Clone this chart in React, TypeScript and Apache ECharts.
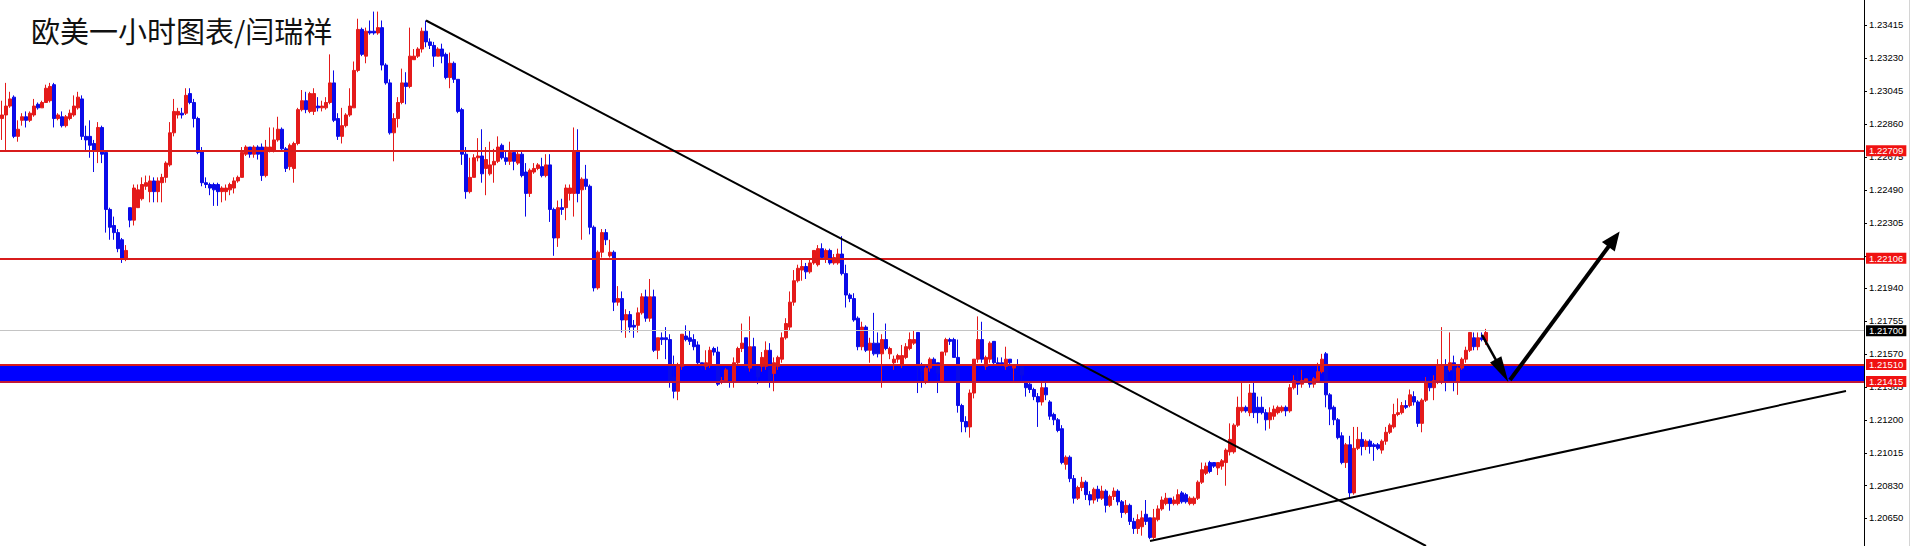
import React, { useEffect, useRef } from "react";
import * as echarts from "echarts";

// Hourly EUR/USD candles, each row = [open, close, low, high]
const CANDLES: number[][] = [
  [1.2289,1.2291,1.2277,1.2299],[1.2291,1.2296,1.2271,1.2309],[1.2296,1.2300,1.2295,1.2304],[1.2301,1.2279,1.2278,1.2302],
  [1.2279,1.2283,1.2276,1.2288],[1.2288,1.2290,1.2285,1.2292],[1.2290,1.2288,1.2284,1.2293],[1.2288,1.2292,1.2287,1.2293],
  [1.2291,1.2296,1.2290,1.2300],[1.2297,1.2295,1.2294,1.2298],[1.2295,1.2298,1.2295,1.2299],[1.2298,1.2306,1.2298,1.2308],
  [1.2299,1.2307,1.2298,1.2309],[1.2308,1.2289,1.2284,1.2309],[1.2289,1.2291,1.2288,1.2292],[1.2290,1.2285,1.2284,1.2293],
  [1.2285,1.2290,1.2284,1.2291],[1.2289,1.2292,1.2288,1.2294],[1.2291,1.2296,1.2290,1.2302],[1.2295,1.2301,1.2294,1.2304],
  [1.2300,1.2279,1.2277,1.2302],[1.2279,1.2277,1.2271,1.2285],[1.2279,1.2274,1.2267,1.2288],[1.2275,1.2271,1.2259,1.2277],
  [1.2271,1.2284,1.2264,1.2287],[1.2284,1.2269,1.2264,1.2285],[1.2270,1.2238,1.2225,1.2271],[1.2238,1.2228,1.2221,1.2239],
  [1.2229,1.2225,1.2221,1.2234],[1.2225,1.2216,1.2214,1.2227],[1.2221,1.2210,1.2208,1.2222],[1.2210,1.2215,1.2209,1.2218],
  [1.2239,1.2232,1.2228,1.2239],[1.2232,1.2250,1.2229,1.2252],[1.2239,1.2249,1.2239,1.2252],[1.2244,1.2252,1.2243,1.2256],
  [1.2251,1.2253,1.2249,1.2257],[1.2248,1.2254,1.2242,1.2257],[1.2254,1.2248,1.2242,1.2256],[1.2248,1.2254,1.2242,1.2256],
  [1.2253,1.2256,1.2242,1.2258],[1.2256,1.2264,1.2253,1.2265],[1.2263,1.2281,1.2262,1.2287],[1.2281,1.2293,1.2279,1.2300],
  [1.2291,1.2293,1.2289,1.2295],[1.2292,1.2291,1.2289,1.2295],[1.2292,1.2302,1.2291,1.2306],[1.2303,1.2298,1.2297,1.2306],
  [1.2298,1.2289,1.2284,1.2300],[1.2289,1.2270,1.2269,1.2290],[1.2271,1.2253,1.2251,1.2273],[1.2253,1.2252,1.2250,1.2256],
  [1.2252,1.2250,1.2246,1.2253],[1.2252,1.2249,1.2240,1.2253],[1.2252,1.2248,1.2240,1.2253],[1.2248,1.2250,1.2242,1.2251],
  [1.2248,1.2250,1.2243,1.2252],[1.2249,1.2252,1.2246,1.2253],[1.2250,1.2254,1.2247,1.2256],[1.2254,1.2256,1.2253,1.2257],
  [1.2256,1.2270,1.2256,1.2273],[1.2269,1.2273,1.2268,1.2274],[1.2273,1.2269,1.2267,1.2273],[1.2269,1.2273,1.2267,1.2274],
  [1.2273,1.2269,1.2266,1.2274],[1.2273,1.2257,1.2254,1.2275],[1.2257,1.2273,1.2256,1.2277],[1.2271,1.2273,1.2270,1.2284],
  [1.2271,1.2277,1.2270,1.2284],[1.2277,1.2283,1.2276,1.2290],[1.2283,1.2272,1.2271,1.2284],[1.2272,1.2261,1.2259,1.2273],
  [1.2262,1.2274,1.2260,1.2275],[1.2261,1.2275,1.2253,1.2276],[1.2275,1.2294,1.2274,1.2295],[1.2294,1.2299,1.2293,1.2305],
  [1.2299,1.2294,1.2292,1.2304],[1.2293,1.2303,1.2292,1.2304],[1.2293,1.2303,1.2291,1.2306],[1.2296,1.2295,1.2293,1.2301],
  [1.2295,1.2296,1.2293,1.2299],[1.2295,1.2298,1.2294,1.2301],[1.2298,1.2309,1.2297,1.2325],[1.2309,1.2288,1.2287,1.2316],
  [1.2289,1.2279,1.2277,1.2292],[1.2279,1.2285,1.2275,1.2295],[1.2285,1.2291,1.2284,1.2292],[1.2291,1.2296,1.2290,1.2306],
  [1.2295,1.2316,1.2295,1.2321],[1.2316,1.2339,1.2315,1.2345],[1.2339,1.2325,1.2324,1.2340],[1.2324,1.2338,1.2320,1.2340],
  [1.2338,1.2337,1.2336,1.2344],[1.2338,1.2337,1.2336,1.2349],[1.2337,1.2340,1.2336,1.2349],[1.2340,1.2319,1.2316,1.2344],
  [1.2319,1.2309,1.2308,1.2320],[1.2309,1.2281,1.2280,1.2311],[1.2281,1.2289,1.2265,1.2292],[1.2289,1.2298,1.2284,1.2301],
  [1.2298,1.2309,1.2297,1.2317],[1.2309,1.2307,1.2297,1.2315],[1.2307,1.2324,1.2306,1.2340],[1.2322,1.2324,1.2322,1.2328],
  [1.2324,1.2328,1.2323,1.2329],[1.2328,1.2338,1.2326,1.2340],[1.2338,1.2332,1.2329,1.2344],[1.2332,1.2330,1.2328,1.2334],
  [1.2330,1.2324,1.2318,1.2332],[1.2324,1.2328,1.2324,1.2329],[1.2328,1.2324,1.2320,1.2331],[1.2325,1.2312,1.2311,1.2326],
  [1.2312,1.2320,1.2306,1.2326],[1.2320,1.2311,1.2309,1.2321],[1.2311,1.2293,1.2292,1.2311],[1.2294,1.2269,1.2263,1.2295],
  [1.2269,1.2248,1.2244,1.2273],[1.2248,1.2256,1.2247,1.2267],[1.2256,1.2267,1.2256,1.2269],[1.2267,1.2268,1.2265,1.2278],
  [1.2268,1.2258,1.2253,1.2283],[1.2261,1.2266,1.2246,1.2273],[1.2258,1.2263,1.2257,1.2276],[1.2263,1.2265,1.2253,1.2272],
  [1.2265,1.2273,1.2264,1.2279],[1.2274,1.2267,1.2266,1.2275],[1.2267,1.2265,1.2263,1.2271],[1.2265,1.2270,1.2263,1.2276],
  [1.2270,1.2265,1.2260,1.2271],[1.2264,1.2269,1.2263,1.2271],[1.2269,1.2257,1.2256,1.2271],[1.2259,1.2247,1.2234,1.2264],
  [1.2247,1.2260,1.2245,1.2261],[1.2259,1.2261,1.2258,1.2264],[1.2261,1.2263,1.2260,1.2264],[1.2262,1.2257,1.2256,1.2267],
  [1.2257,1.2263,1.2256,1.2269],[1.2263,1.2238,1.2231,1.2269],[1.2238,1.2222,1.2212,1.2239],[1.2222,1.2239,1.2217,1.2243],
  [1.2239,1.2238,1.2235,1.2244],[1.2239,1.2250,1.2232,1.2252],[1.2247,1.2250,1.2243,1.2252],[1.2247,1.2271,1.2234,1.2284],
  [1.2271,1.2247,1.2242,1.2283],[1.2249,1.2255,1.2221,1.2256],[1.2255,1.2251,1.2249,1.2263],[1.2251,1.2228,1.2224,1.2252],
  [1.2228,1.2194,1.2192,1.2229],[1.2194,1.2214,1.2193,1.2215],[1.2214,1.2225,1.2211,1.2227],[1.2225,1.2221,1.2218,1.2227],
  [1.2212,1.2214,1.2211,1.2221],[1.2214,1.2186,1.2181,1.2215],[1.2186,1.2188,1.2184,1.2195],[1.2188,1.2176,1.2169,1.2192],
  [1.2176,1.2179,1.2166,1.2182],[1.2179,1.2172,1.2169,1.2181],[1.2173,1.2172,1.2166,1.2176],[1.2173,1.2180,1.2169,1.2183],
  [1.2180,1.2189,1.2179,1.2191],[1.2189,1.2177,1.2175,1.2193],[1.2177,1.2189,1.2175,1.2199],[1.2189,1.2159,1.2158,1.2193],
  [1.2159,1.2166,1.2154,1.2166],[1.2166,1.2165,1.2162,1.2169],[1.2166,1.2165,1.2154,1.2172],[1.2165,1.2141,1.2138,1.2168],
  [1.2144,1.2136,1.2132,1.2156],[1.2136,1.2150,1.2131,1.2152],[1.2150,1.2168,1.2148,1.2168],[1.2167,1.2165,1.2164,1.2173],
  [1.2166,1.2164,1.2162,1.2170],[1.2165,1.2161,1.2159,1.2168],[1.2162,1.2152,1.2151,1.2164],[1.2152,1.2150,1.2148,1.2152],
  [1.2150,1.2152,1.2148,1.2159],[1.2151,1.2159,1.2149,1.2161],[1.2160,1.2158,1.2156,1.2161],[1.2158,1.2140,1.2139,1.2161],
  [1.2141,1.2142,1.2140,1.2144],[1.2142,1.2148,1.2141,1.2149],[1.2148,1.2142,1.2138,1.2150],[1.2141,1.2152,1.2138,1.2155],
  [1.2152,1.2160,1.2151,1.2161],[1.2160,1.2163,1.2158,1.2174],[1.2166,1.2149,1.2148,1.2166],[1.2149,1.2161,1.2147,1.2178],
  [1.2161,1.2150,1.2148,1.2166],[1.2150,1.2144,1.2140,1.2151],[1.2150,1.2155,1.2147,1.2158],[1.2150,1.2159,1.2148,1.2164],
  [1.2159,1.2141,1.2138,1.2163],[1.2146,1.2152,1.2136,1.2155],[1.2150,1.2155,1.2148,1.2156],[1.2154,1.2166,1.2152,1.2169],
  [1.2166,1.2174,1.2165,1.2177],[1.2172,1.2186,1.2170,1.2192],[1.2186,1.2198,1.2184,1.2204],[1.2198,1.2205,1.2197,1.2207],
  [1.2204,1.2206,1.2198,1.2210],[1.2206,1.2203,1.2199,1.2208],[1.2203,1.2208,1.2202,1.2210],[1.2208,1.2215,1.2207,1.2215],
  [1.2207,1.2216,1.2206,1.2218],[1.2216,1.2211,1.2210,1.2219],[1.2210,1.2215,1.2208,1.2216],[1.2215,1.2208,1.2207,1.2216],
  [1.2208,1.2211,1.2207,1.2213],[1.2208,1.2213,1.2207,1.2216],[1.2213,1.2202,1.2201,1.2223],[1.2202,1.2190,1.2183,1.2207],
  [1.2190,1.2188,1.2186,1.2191],[1.2188,1.2176,1.2175,1.2191],[1.2177,1.2161,1.2159,1.2178],[1.2161,1.2172,1.2159,1.2175],
  [1.2172,1.2159,1.2158,1.2173],[1.2159,1.2163,1.2152,1.2166],[1.2163,1.2157,1.2156,1.2180],[1.2163,1.2157,1.2155,1.2169],
  [1.2157,1.2165,1.2138,1.2168],[1.2165,1.2160,1.2159,1.2174],[1.2157,1.2160,1.2154,1.2161],[1.2152,1.2154,1.2148,1.2156],
  [1.2154,1.2156,1.2152,1.2157],[1.2151,1.2156,1.2149,1.2162],[1.2155,1.2161,1.2154,1.2163],[1.2160,1.2165,1.2159,1.2169],
  [1.2163,1.2165,1.2162,1.2170],[1.2169,1.2149,1.2135,1.2169],[1.2151,1.2147,1.2138,1.2152],[1.2141,1.2149,1.2140,1.2150],
  [1.2149,1.2154,1.2147,1.2155],[1.2154,1.2151,1.2148,1.2155],[1.2152,1.2146,1.2135,1.2152],[1.2141,1.2158,1.2141,1.2158],
  [1.2158,1.2165,1.2156,1.2166],[1.2165,1.2164,1.2162,1.2166],[1.2165,1.2155,1.2155,1.2166],[1.2155,1.2128,1.2124,1.2165],
  [1.2128,1.2119,1.2113,1.2129],[1.2119,1.2116,1.2113,1.2122],[1.2116,1.2135,1.2110,1.2137],[1.2135,1.2154,1.2132,1.2154],
  [1.2154,1.2165,1.2152,1.2178],[1.2165,1.2154,1.2152,1.2175],[1.2150,1.2155,1.2148,1.2156],[1.2154,1.2163,1.2152,1.2164],
  [1.2164,1.2152,1.2151,1.2164],[1.2152,1.2151,1.2149,1.2155],[1.2152,1.2151,1.2149,1.2155],[1.2150,1.2154,1.2148,1.2161],
  [1.2154,1.2152,1.2149,1.2154],[1.2149,1.2151,1.2142,1.2151],[1.2151,1.2150,1.2148,1.2154],[1.2150,1.2145,1.2142,1.2151],
  [1.2141,1.2138,1.2133,1.2142],[1.2140,1.2137,1.2135,1.2141],[1.2137,1.2133,1.2131,1.2138],[1.2133,1.2130,1.2116,1.2135],
  [1.2130,1.2138,1.2128,1.2141],[1.2138,1.2134,1.2131,1.2141],[1.2130,1.2122,1.2120,1.2131],[1.2123,1.2120,1.2117,1.2124],
  [1.2120,1.2114,1.2113,1.2121],[1.2115,1.2096,1.2095,1.2117],[1.2095,1.2099,1.2092,1.2100],[1.2099,1.2087,1.2085,1.2100],
  [1.2087,1.2076,1.2073,1.2089],[1.2076,1.2082,1.2075,1.2083],[1.2082,1.2085,1.2080,1.2088],[1.2085,1.2078,1.2075,1.2086],
  [1.2078,1.2075,1.2072,1.2080],[1.2075,1.2081,1.2073,1.2082],[1.2081,1.2076,1.2074,1.2083],[1.2076,1.2080,1.2075,1.2083],
  [1.2080,1.2072,1.2068,1.2081],[1.2072,1.2077,1.2071,1.2078],[1.2077,1.2080,1.2075,1.2082],[1.2080,1.2074,1.2072,1.2081],
  [1.2074,1.2068,1.2065,1.2075],[1.2068,1.2072,1.2067,1.2075],[1.2072,1.2063,1.2061,1.2073],[1.2063,1.2059,1.2056,1.2065],
  [1.2059,1.2064,1.2056,1.2067],[1.2060,1.2065,1.2055,1.2069],[1.2067,1.2063,1.2061,1.2075],[1.2065,1.2054,1.2053,1.2065],
  [1.2054,1.2065,1.2053,1.2070],[1.2064,1.2070,1.2063,1.2072],[1.2070,1.2075,1.2069,1.2077],[1.2073,1.2076,1.2072,1.2079],
  [1.2076,1.2073,1.2069,1.2076],[1.2073,1.2075,1.2072,1.2077],[1.2073,1.2078,1.2072,1.2081],[1.2079,1.2074,1.2073,1.2080],
  [1.2078,1.2074,1.2073,1.2079],[1.2073,1.2076,1.2072,1.2077],[1.2073,1.2076,1.2072,1.2077],[1.2076,1.2085,1.2075,1.2086],
  [1.2085,1.2092,1.2084,1.2096],[1.2090,1.2094,1.2089,1.2096],[1.2096,1.2091,1.2090,1.2097],[1.2096,1.2094,1.2093,1.2096],
  [1.2093,1.2096,1.2089,1.2096],[1.2094,1.2097,1.2092,1.2098],[1.2096,1.2103,1.2083,1.2104],[1.2102,1.2109,1.2100,1.2118],
  [1.2102,1.2117,1.2101,1.2118],[1.2117,1.2127,1.2116,1.2133],[1.2125,1.2127,1.2124,1.2141],[1.2127,1.2125,1.2124,1.2128],
  [1.2124,1.2135,1.2122,1.2140],[1.2135,1.2124,1.2121,1.2141],[1.2127,1.2124,1.2118,1.2133],[1.2127,1.2124,1.2123,1.2133],
  [1.2124,1.2120,1.2114,1.2126],[1.2120,1.2124,1.2115,1.2127],[1.2122,1.2126,1.2120,1.2128],[1.2124,1.2127,1.2123,1.2128],
  [1.2125,1.2127,1.2124,1.2128],[1.2127,1.2125,1.2122,1.2128],[1.2125,1.2138,1.2124,1.2140],[1.2138,1.2142,1.2137,1.2145],
  [1.2142,1.2140,1.2134,1.2149],[1.2140,1.2142,1.2138,1.2148],[1.2141,1.2143,1.2141,1.2143],[1.2142,1.2140,1.2138,1.2144],
  [1.2140,1.2143,1.2138,1.2144],[1.2142,1.2147,1.2141,1.2152],[1.2147,1.2154,1.2146,1.2157],[1.2157,1.2134,1.2127,1.2158],
  [1.2134,1.2126,1.2117,1.2135],[1.2127,1.2120,1.2117,1.2128],[1.2120,1.2110,1.2109,1.2121],[1.2111,1.2096,1.2095,1.2113],
  [1.2096,1.2106,1.2093,1.2107],[1.2106,1.2079,1.2076,1.2111],[1.2079,1.2104,1.2078,1.2116],[1.2104,1.2109,1.2103,1.2116],
  [1.2109,1.2105,1.2100,1.2113],[1.2105,1.2108,1.2103,1.2109],[1.2108,1.2105,1.2101,1.2109],[1.2106,1.2105,1.2097,1.2107],
  [1.2106,1.2104,1.2103,1.2107],[1.2103,1.2108,1.2101,1.2109],[1.2108,1.2113,1.2106,1.2116],[1.2113,1.2117,1.2112,1.2118],
  [1.2116,1.2123,1.2115,1.2129],[1.2123,1.2124,1.2122,1.2132],[1.2124,1.2128,1.2123,1.2130],[1.2128,1.2127,1.2126,1.2131],
  [1.2128,1.2134,1.2127,1.2137],[1.2133,1.2130,1.2128,1.2136],[1.2130,1.2118,1.2116,1.2131],[1.2118,1.2131,1.2113,1.2132],
  [1.2131,1.2141,1.2130,1.2144],[1.2141,1.2138,1.2136,1.2142],[1.2138,1.2142,1.2131,1.2145],[1.2142,1.2151,1.2140,1.2154],
  [1.2141,1.2151,1.2140,1.2172],[1.2151,1.2142,1.2136,1.2154],[1.2148,1.2152,1.2147,1.2169],[1.2152,1.2147,1.2136,1.2156],
  [1.2141,1.2149,1.2134,1.2150],[1.2149,1.2154,1.2148,1.2155],[1.2154,1.2159,1.2152,1.2161],[1.2159,1.2169,1.2158,1.2169],
  [1.2166,1.2161,1.2159,1.2169],[1.2161,1.2166,1.2159,1.2169],[1.2166,1.2165,1.2164,1.2169],[1.2164,1.2169,1.2162,1.2171],
];

// Empty slots to the right of the last candle (the chart's future area)
const CATEGORY_COUNT = 466;

// Price axis
const Y_MIN = 1.20492;
const Y_MAX = 1.23555;
const TICK_LABELS = [
  "1.23415", "1.23230", "1.23045", "1.22860", "1.22675", "1.22490", "1.22305", "1.22120",
  "1.21940", "1.21755", "1.21570", "1.21385", "1.21200", "1.21015", "1.20830", "1.20650",
];

// Horizontal levels
const RED_LEVELS = [1.22709, 1.22106];
const BAND = [1.21415, 1.2151];
const CURRENT_PRICE = 1.217;

// Drawn objects: [candle index, price]
const DOWN_TREND = [[106, 1.2344], [356.25, 1.20492]];
const UP_TREND = [[286.5, 1.2052], [460.75, 1.21362]];
const ARROW_DOWN = [[370.25, 1.21676], [375.3, 1.21475]];
const ARROW_UP = [[376.5, 1.21423], [402.9, 1.22213]];

const TITLE = "欧美一小时图表/闫瑞祥";

export default function App() {
  const ref = useRef<HTMLDivElement>(null);

  useEffect(() => {
    document.body.style.margin = "0";
    const chart = echarts.init(ref.current!, null, { renderer: "svg" });
    const cats = Array.from({ length: CATEGORY_COUNT }, (_, i) => String(i));
    const tickValues = TICK_LABELS.map(Number);
    const RED = "#e41a1a";
    const BLUE = "#0a0ae8";
    const LINE_RED = "#d81c1c";
    const labelFont = "Liberation Sans";

    const levelMarker = (value: number, lineColor: string, width: number, bg: string) => ({
      yAxis: value,
      symbol: "none",
      lineStyle: { color: lineColor, width, type: "solid" },
      label: {
        show: true,
        position: "end",
        distance: 2,
        formatter: value.toFixed(5),
        backgroundColor: bg,
        color: "#ffffff",
        padding: [1, 3, 0, 3],
        fontSize: 9.5,
        lineHeight: 10,
        fontFamily: labelFont,
      },
    });

    const segment = (pts: number[][], width: number, endSymbol: string, endSize: number[] | number) => [
      {
        coord: pts[0],
        symbol: "none",
        lineStyle: { color: "#000", width, type: "solid" },
        label: { show: false },
      },
      {
        coord: pts[1],
        symbol: endSymbol,
        symbolSize: endSize,
        lineStyle: { color: "#000", width, type: "solid" },
        label: { show: false },
      },
    ];

    chart.setOption({
      animation: false,
      backgroundColor: "#ffffff",
      grid: { left: 0, top: 0, width: 1864, height: 546, containLabel: false },
      xAxis: {
        type: "category",
        data: cats,
        boundaryGap: true,
        axisLine: { show: false },
        axisTick: { show: false },
        axisLabel: { show: false },
        splitLine: { show: false },
      },
      yAxis: {
        type: "value",
        position: "right",
        min: Y_MIN,
        max: Y_MAX,
        splitLine: { show: false },
        axisLine: { show: true, lineStyle: { color: "#000", width: 1 } },
        axisTick: { show: true, length: 3, customValues: tickValues, lineStyle: { color: "#000" } },
        axisLabel: {
          show: true,
          customValues: tickValues,
          formatter: (v: number) => v.toFixed(5),
          color: "#000",
          fontSize: 9.5,
          fontFamily: labelFont,
          margin: 5,
        },
      },
      graphic: [
        {
          type: "text",
          left: 31,
          top: 15,
          z: 100,
          style: { text: TITLE, fontSize: 29, fontFamily: "Noto Sans CJK SC", fill: "#111" },
        },
        {
          type: "line",
          shape: { x1: 1909.5, y1: 0, x2: 1909.5, y2: 546 },
          style: { stroke: "#d4d4d4", lineWidth: 1 },
        },
      ],
      series: [
        {
          type: "candlestick",
          data: CANDLES,
          barWidth: 2.6,
          itemStyle: {
            color: RED,
            color0: BLUE,
            borderColor: RED,
            borderColor0: BLUE,
            borderColorDoji: BLUE,
            borderWidth: 1,
          },
          emphasis: { disabled: true },
          markArea: {
            silent: true,
            itemStyle: { color: "#0000ff", opacity: 1 },
            label: { show: false },
            data: [[{ yAxis: BAND[0] }, { yAxis: BAND[1] }]],
          },
          markLine: {
            silent: true,
            symbol: ["none", "none"],
            precision: 5,
            label: { show: false },
            lineStyle: { type: "solid" },
            emphasis: { disabled: true },
            data: [
              levelMarker(CURRENT_PRICE, "#c4c4c4", 1, "#000000"),
              levelMarker(RED_LEVELS[0], LINE_RED, 2, "#f01212"),
              levelMarker(RED_LEVELS[1], LINE_RED, 2, "#f01212"),
              levelMarker(BAND[1], LINE_RED, 2, "#f01212"),
              levelMarker(BAND[0], "#c01838", 2, "#f01212"),
              segment(DOWN_TREND, 2, "none", 1),
              segment(UP_TREND, 2, "none", 1),
              segment(ARROW_DOWN, 2.5, "triangle", [13, 26]),
              segment(ARROW_UP, 4, "triangle", [16, 19]),
            ],
          },
        },
      ],
    });

    return () => chart.dispose();
  }, []);

  return (
    <div
      ref={ref}
      style={{ position: "fixed", left: 0, top: 0, width: 1912, height: 546, background: "#fff" }}
    />
  );
}
